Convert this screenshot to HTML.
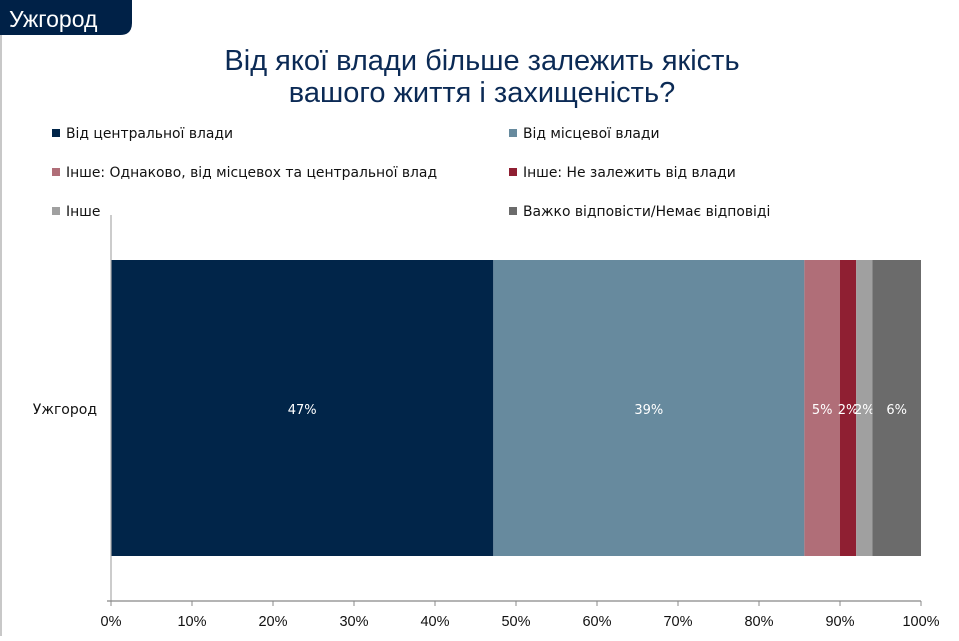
<!DOCTYPE html>
<html><head><meta charset="utf-8"><style>
body{margin:0;width:959px;height:636px;background:#fff;overflow:hidden;font-family:"Liberation Sans","DejaVu Sans",sans-serif;}
</style></head><body>
<svg width="959" height="636" xmlns="http://www.w3.org/2000/svg">
<line x1="1" y1="0" x2="1" y2="636" stroke="#c8c8c8" stroke-width="2"/>
<path d="M0 0 H132 V23 Q132 35 120 35 H0 Z" fill="#002147"/>
<text x="9" y="27" font-size="23" fill="#fff">Ужгород</text>
<text x="482" y="70" font-size="29" fill="#0b2a55" text-anchor="middle">Від якої влади більше залежить якість</text>
<text x="482" y="102" font-size="29" fill="#0b2a55" text-anchor="middle">вашого життя і захищеність?</text>
<g id="legend" font-size="13.9" fill="#111" font-family="DejaVu Sans, sans-serif"></g>
<g id="plot"></g>
</svg>
<script>
const categories=["Ужгород"];
const seriesNames=["Від центральної влади","Від місцевої влади","Інше: Однаково, від місцевох та центральної влад","Інше: Не залежить від влади","Інше","Важко відповісти/Немає відповіді"];
const seriesValues=[47.2,38.4,4.4,2.0,2.0,6.0];
const valueLabels=["47%","39%","5%","2%","2%","6%"];
const ticks=[0,10,20,30,40,50,60,70,80,90,100];
const colors=["#012549","#678a9e","#b06e78","#8f1f32","#a0a0a0","#6b6b6b"];
const NS="http://www.w3.org/2000/svg";
const x0=111,x1=921,barTop=260,barBot=556,axisY=601;
const xs=v=>x0+(x1-x0)*v/100;
function mk(t,a,p){const e=document.createElementNS(NS,t);for(const k in a)e.setAttribute(k,a[k]);p.appendChild(e);return e;}
const plot=document.getElementById('plot'),leg=document.getElementById('legend');
seriesNames.forEach((n,i)=>{
 const lx=i%2?509:52, ly=138+Math.floor(i/2)*39;
 const r=mk('rect',{x:lx,y:ly-9,width:8,height:8,fill:colors[i]},leg);
 
 
 const t=mk('text',{x:lx+14,y:ly,fill:'#111'},leg);t.textContent=n;
 
 
});
let cum=0;
seriesValues.forEach((v,i)=>{
 const r=mk('rect',{x:xs(cum),y:barTop,width:xs(cum+v)-xs(cum),height:barBot-barTop,fill:colors[i]},plot);
 
 
 const t=mk('text',{x:(xs(cum)+xs(cum+v))/2,y:414,fill:'#fff','font-size':13,'text-anchor':'middle','font-family':'DejaVu Sans, sans-serif'},plot);
 t.textContent=valueLabels[i];
 
 
 cum+=v;
});
const c=mk('text',{x:97,y:414,'font-size':14,fill:'#111','text-anchor':'end','font-family':'DejaVu Sans, sans-serif'},plot);c.textContent=categories[0];


const ya=mk('line',{x1:x0,y1:215,x2:x0,y2:axisY,stroke:'#aaa','stroke-width':1.2},plot);


const xa=mk('line',{x1:x0-4,y1:axisY,x2:x1,y2:axisY,stroke:'#888','stroke-width':1.2},plot);


ticks.forEach(tv=>{
 const l=mk('line',{x1:xs(tv),y1:axisY,x2:xs(tv),y2:axisY+5,stroke:'#888'},plot);
 
 
 const t=mk('text',{x:xs(tv),y:626,'font-size':14.5,fill:'#111','text-anchor':'middle'},plot);t.textContent=tv+'%';
 
 
});
</script>
</body></html>
